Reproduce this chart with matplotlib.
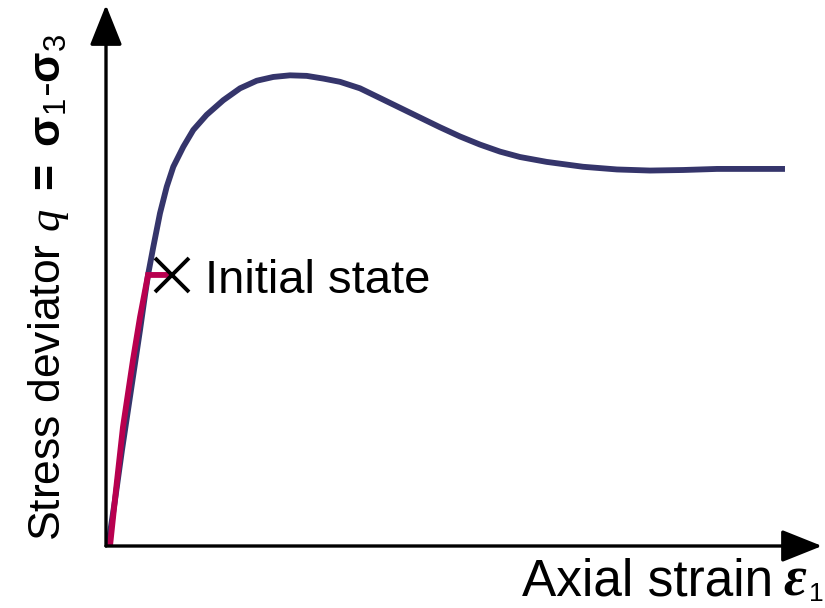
import matplotlib
matplotlib.use("Agg")
import matplotlib.pyplot as plt

plt.rcParams["font.family"] = ["Liberation Sans", "DejaVu Sans"]
plt.rcParams["mathtext.fontset"] = "custom"
plt.rcParams["mathtext.rm"] = "Liberation Sans"
plt.rcParams["mathtext.it"] = "Liberation Serif:italic"
plt.rcParams["mathtext.bf"] = "Liberation Sans:bold"

# Stress-strain response (arbitrary units, axes run 0..100)
strain = [0.28, 1.26, 2.23, 3.07, 3.91, 4.75, 5.45, 5.91, 6.61, 7.54, 8.48, 9.40,
          10.80, 12.19, 14.06, 16.38, 18.72, 21.05, 23.37, 25.70, 28.03, 30.35,
          32.68, 35.47, 38.27, 41.06, 43.85, 46.65, 49.44, 52.23, 55.03, 57.82,
          61.55, 66.62, 71.37, 75.98, 80.59, 85.34, 89.94, 94.83]
q_dev = [0.0, 8.5, 17.7, 25.1, 32.5, 39.9, 46.4, 50.4, 55.3, 61.5, 66.4, 70.1,
         73.8, 76.9, 79.7, 82.4, 84.6, 86.0, 86.7, 87.0, 86.9, 86.4,
         85.8, 84.6, 82.8, 81.0, 79.2, 77.4, 75.7, 74.2, 72.9, 71.9,
         71.0, 70.1, 69.6, 69.4, 69.5, 69.7, 69.7, 69.7]

# Loading path up to the initial state
init_strain = [0.56, 1.40, 2.37, 3.77, 4.75, 5.87, 8.94]
init_q = [0.0, 10.4, 22.0, 34.4, 42.3, 50.1, 50.1]

# Initial state marker
state_strain = [9.22]
state_q = [50.1]

W, H = 825, 608
fig = plt.figure(figsize=(W / 100, H / 100), dpi=100)
ax = fig.add_axes([106 / W, 62 / H, 716 / W, 541 / H])
ax.set_xlim(0, 100)
ax.set_ylim(0, 100)
ax.axis("off")

ax.plot(strain, q_dev, color="#35356B", lw=4.2, solid_joinstyle="round",
        solid_capstyle="butt", clip_on=False, zorder=2)
ax.plot(init_strain, init_q, color="#B8004F", lw=4.2, solid_joinstyle="miter",
        solid_capstyle="butt", clip_on=False, zorder=3)
ax.plot(state_strain, state_q, marker="x", ms=24, mew=2.8, color="black",
        linestyle="none", clip_on=False, zorder=4)

# Axes drawn as arrows
arrow_kw = dict(arrowstyle="-|>,head_length=1.25,head_width=0.5", mutation_scale=20,
                lw=2.4, color="black", shrinkA=0, shrinkB=0)
ax.annotate("", xy=(1, 0), xytext=(0, 0), xycoords="axes fraction",
            textcoords="axes fraction", arrowprops=arrow_kw)
ax.annotate("", xy=(0, 1), xytext=(0, 0), xycoords="axes fraction",
            textcoords="axes fraction", arrowprops=arrow_kw)

ax.text(13.8, 46.8, "Initial state", fontsize=34, ha="left", va="baseline")

# x-axis label: text, strain symbol and its subscript
fig.text(773 / W, (H - 595) / H, "Axial strain", fontsize=37,
         ha="right", va="baseline")
fig.text(783 / W, (H - 595) / H, "ε", fontsize=40, family="Liberation Serif",
         style="italic", weight="bold", ha="left", va="baseline")
fig.text(809 / W, (H - 601) / H, "1", fontsize=19, ha="left", va="baseline")

# y-axis label
fig.text(60 / W, (H - 541) / H,
         r"Stress deviator $\mathit{q}$ $\mathbf{=}$ $\mathbf{σ}_{1}$-$\mathbf{σ}_{3}$",
         fontsize=32, rotation=90, rotation_mode="anchor", ha="left", va="baseline")

fig.savefig("out.png", dpi=100, facecolor="white")
